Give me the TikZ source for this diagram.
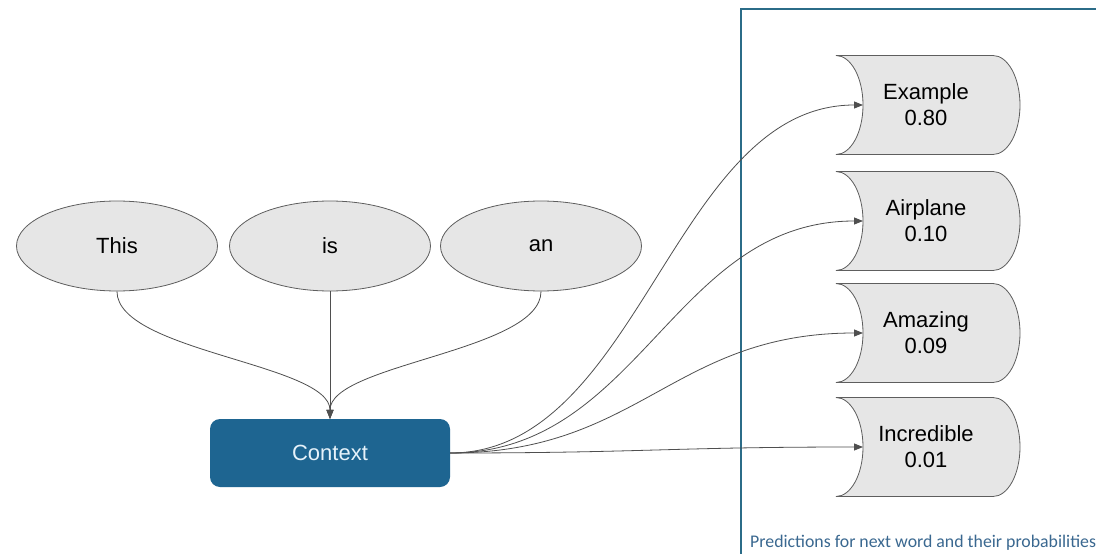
\documentclass[tikz,border=0pt]{standalone}
\usepackage{fontspec}
\setmainfont{Liberation Sans}
\newfontfamily\notefont{Carlito}
\usetikzlibrary{arrows.meta,shapes.geometric}

\definecolor{shapefill}{HTML}{E6E6E6}
\definecolor{shapeline}{HTML}{5E5E5E}
\definecolor{ctxblue}{HTML}{1E6591}
\definecolor{ctxtext}{HTML}{E6F2FA}
\definecolor{framecol}{HTML}{2B6C88}
\definecolor{notecol}{HTML}{3A6890}
\definecolor{wirecol}{HTML}{4F4F4F}

% stored-data outline: concave left end, convex right end; #1 = vertical centre
\newcommand\predshape[1]{%
  \draw[shapeline, line width=0.8pt, fill=shapefill]
    (836,#1-49.5) -- (993,#1-49.5)
    .. controls (1007.9,#1-49.5) and (1020,#1-27.3) .. (1020,#1)
    .. controls (1020,#1+27.3) and (1007.9,#1+49.5) .. (993,#1+49.5)
    -- (836,#1+49.5)
    .. controls (850.9,#1+49.5) and (863,#1+27.3) .. (863,#1)
    .. controls (863,#1-27.3) and (850.9,#1-49.5) .. (836,#1-49.5)
    -- cycle;}

\begin{document}
\begin{tikzpicture}[x=1pt,y=-1pt,
  word/.style={ellipse, draw=shapeline, fill=shapefill, line width=0.8pt,
    minimum width=201pt, minimum height=90pt, inner sep=0pt,
    font=\fontsize{22}{26}\selectfont},
  ctx/.style={rectangle, rounded corners=10pt, fill=ctxblue,
    minimum width=240pt, minimum height=68pt, inner sep=0pt,
    text=ctxtext, font=\fontsize{22}{26}\selectfont},
  predtext/.style={align=center, inner sep=0pt,
    font=\fontsize{22}{26}\selectfont},
  wire/.style={draw=wirecol, line width=0.8pt,
    -{Triangle[length=9pt,width=7pt]}},
  note/.style={anchor=west, inner sep=0pt, text=notecol,
    font=\notefont\fontsize{17.8}{20}\selectfont}]

\useasboundingbox (0,0) rectangle (1096,554);
\fill[white] (0,0) rectangle (1096,554);

% frame around the predictions
\draw[framecol, line width=2pt] (1096,9) -- (741,9) -- (741,554);
\node[note] (note) at (750,543) {Predictions for next word and their probabilities};

% input words
\node[word] (w1) at (117,246) {This};
\node[word] (w2) at (330,246) {is};
\node[word] (w3) at (541,246) {an};

% context
\node[ctx] (ctx) at (330,453) {Context};

% predicted words
\predshape{105}
\predshape{221}
\predshape{333}
\predshape{447}
\node[predtext] (p1) at (926,105) {Example\\0.80};
\node[predtext] (p2) at (926,221) {Airplane\\0.10};
\node[predtext] (p3) at (926,333) {Amazing\\0.09};
\node[predtext] (p4) at (926,447) {Incredible\\0.01};
\coordinate (p1in) at (863,105);
\coordinate (p2in) at (863,221);
\coordinate (p3in) at (863,333);
\coordinate (p4in) at (863,447);

% words into context
\draw[wire] (w1.south) .. controls +(0,60) and +(0,-55) .. (ctx.north);
\draw[wire] (w2.south) -- (ctx.north);
\draw[wire] (w3.south) .. controls +(0,60) and +(0,-55) .. (ctx.north);

% context to predictions
\draw[wire] (ctx.east) .. controls +(190,0) and +(-190,0) .. (p1in);
\draw[wire] (ctx.east) .. controls +(190,0) and +(-190,0) .. (p2in);
\draw[wire] (ctx.east) .. controls +(190,0) and +(-190,0) .. (p3in);
\draw[wire] (ctx.east) .. controls +(190,0) and +(-190,0) .. (p4in);
\end{tikzpicture}
\end{document}
